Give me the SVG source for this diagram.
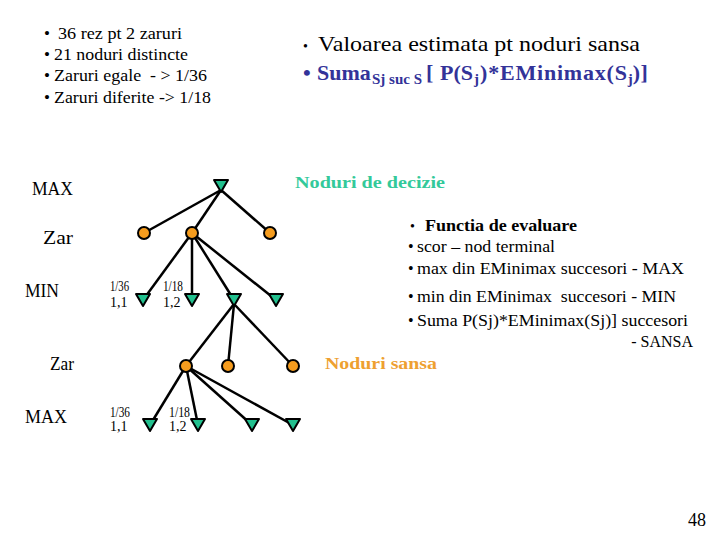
<svg xmlns="http://www.w3.org/2000/svg" width="720" height="540" viewBox="0 0 720 540" font-family="'Liberation Serif', 'DejaVu Serif', serif">
<style>
text{font-family:'Liberation Serif','DejaVu Serif',serif;fill:#000}
.t16{font-size:16px}
.t17{font-size:17px}
.t22{font-size:22px}
.sm{font-size:14px}
.lab{font-size:18px}
.b{font-weight:bold}
.blue{fill:#333399;font-weight:bold}
.sub{font-size:15px}
.green{fill:#33c99a;font-weight:bold;font-size:17px}
.orange{fill:#eea030;font-weight:bold;font-size:17px}
.tri{fill:#22c08e;stroke:#000;stroke-width:2;stroke-linejoin:round}
.cir{fill:#f59c1e;stroke:#000;stroke-width:2}
.edge{stroke:#000;stroke-width:2.5;fill:none}
</style>
<defs>
<polygon id="tr" class="tri" points="-7,-6 7,-6 0,6"/>
<circle id="ci" class="cir" r="6"/>
</defs>
<rect width="720" height="540" fill="#fff"/>

<g id="notes-left" class="t17">
<text x="44" y="39">•</text><text x="58" y="39" textLength="124" lengthAdjust="spacingAndGlyphs">36 rez pt 2 zaruri</text>
<text x="44" y="60">•</text><text x="54" y="60" textLength="134" lengthAdjust="spacingAndGlyphs">21 noduri distincte</text>
<text x="44" y="81">•</text><text x="54" y="81" xml:space="preserve" textLength="153" lengthAdjust="spacingAndGlyphs">Zaruri egale  - &gt; 1/36</text>
<text x="44" y="103">•</text><text x="54" y="103" textLength="157" lengthAdjust="spacingAndGlyphs">Zaruri diferite -&gt; 1/18</text>
</g>

<g id="notes-right-top">
<text x="303" y="51" style="font-size:14px">•</text>
<text x="318" y="51" class="t22" textLength="322" lengthAdjust="spacingAndGlyphs">Valoarea estimata pt noduri sansa</text>
<text x="303" y="80" class="t22 blue">•</text>
<text y="80" class="t22 blue"><tspan x="317">Suma</tspan><tspan class="sub" x="372" dy="4">Sj suc S</tspan><tspan x="426" dy="-4">[</tspan><tspan x="440">P(S</tspan><tspan class="sub" x="474" dy="4">j</tspan><tspan x="480" dy="-4" letter-spacing="0.8">)*EMinimax(S</tspan><tspan class="sub" dy="4">j</tspan><tspan dy="-4" letter-spacing="0.5">)]</tspan></text>
</g>

<g id="label-decizie"><text x="295" y="188" class="green" textLength="150" lengthAdjust="spacingAndGlyphs">Noduri de decizie</text></g>
<g id="label-sansa"><text x="325" y="369" class="orange" textLength="112" lengthAdjust="spacingAndGlyphs">Noduri sansa</text></g>

<g id="eval" class="t16">
<text x="410" y="231" style="font-size:14px">•</text>
<text x="425" y="231" class="b" textLength="152" lengthAdjust="spacingAndGlyphs">Functia de evaluare</text>
<text x="408" y="252">•</text><text x="417" y="252" textLength="138" lengthAdjust="spacingAndGlyphs">scor – nod terminal</text>
<text x="408" y="274">•</text><text x="417" y="274" textLength="267" lengthAdjust="spacingAndGlyphs">max din EMinimax succesori - MAX</text>
<text x="408" y="302">•</text><text x="417" y="302" xml:space="preserve" textLength="259" lengthAdjust="spacingAndGlyphs">min din EMinimax  succesori - MIN</text>
<text x="408" y="326">•</text><text x="417" y="326" textLength="271" lengthAdjust="spacingAndGlyphs">Suma P(Sj)*EMinimax(Sj)] succesori</text>
<text x="693" y="347" text-anchor="end">- SANSA</text>
</g>

<g id="level-labels" class="lab">
<text x="32" y="195" textLength="41" lengthAdjust="spacingAndGlyphs">MAX</text>
<text x="43" y="244" textLength="30" lengthAdjust="spacingAndGlyphs">Zar</text>
<text x="25" y="297" textLength="34" lengthAdjust="spacingAndGlyphs">MIN</text>
<text x="50" y="370" textLength="24" lengthAdjust="spacingAndGlyphs">Zar</text>
<text x="25" y="423" textLength="42" lengthAdjust="spacingAndGlyphs">MAX</text>
</g>

<g id="prob-labels" class="sm">
<text x="110" y="291" textLength="19" lengthAdjust="spacingAndGlyphs">1/36</text>
<text x="110" y="307">1,1</text>
<text x="163" y="291" textLength="20" lengthAdjust="spacingAndGlyphs">1/18</text>
<text x="163" y="307">1,2</text>
<text x="110" y="417" textLength="20" lengthAdjust="spacingAndGlyphs">1/36</text>
<text x="110" y="431">1,1</text>
<text x="169" y="417" textLength="21" lengthAdjust="spacingAndGlyphs">1/18</text>
<text x="169" y="431">1,2</text>
</g>

<g id="connectors" class="edge">
<line x1="221" y1="190" x2="144" y2="233"/>
<line x1="221" y1="190" x2="192" y2="233"/>
<line x1="221" y1="190" x2="270" y2="233"/>
<line x1="192" y1="233" x2="143" y2="300"/>
<line x1="192" y1="233" x2="192" y2="300"/>
<line x1="192" y1="233" x2="234" y2="300"/>
<line x1="192" y1="233" x2="276" y2="300"/>
<line x1="234" y1="304" x2="186" y2="366"/>
<line x1="234" y1="304" x2="228" y2="366"/>
<line x1="234" y1="304" x2="293" y2="366"/>
<line x1="186" y1="366" x2="150" y2="425"/>
<line x1="186" y1="366" x2="198" y2="425"/>
<line x1="186" y1="366" x2="252" y2="425"/>
<line x1="186" y1="366" x2="293" y2="425"/>
</g>

<g id="max-root"><use href="#tr" x="221" y="186"/></g>
<g id="zar1-a"><use href="#ci" x="144" y="233"/></g>
<g id="zar1-b"><use href="#ci" x="192" y="233"/></g>
<g id="zar1-c"><use href="#ci" x="270" y="233"/></g>
<g id="min-a"><use href="#tr" x="143" y="300"/></g>
<g id="min-b"><use href="#tr" x="192" y="300"/></g>
<g id="min-c"><use href="#tr" x="234" y="300"/></g>
<g id="min-d"><use href="#tr" x="276" y="300"/></g>
<g id="zar2-a"><use href="#ci" x="186" y="366"/></g>
<g id="zar2-b"><use href="#ci" x="228" y="366"/></g>
<g id="zar2-c"><use href="#ci" x="293" y="366"/></g>
<g id="max-a"><use href="#tr" x="150" y="425"/></g>
<g id="max-b"><use href="#tr" x="198" y="425"/></g>
<g id="max-c"><use href="#tr" x="252" y="425"/></g>
<g id="max-d"><use href="#tr" x="293" y="425"/></g>

<g id="page-num"><text x="688" y="526" style="font-size:18px">48</text></g>
</svg>
